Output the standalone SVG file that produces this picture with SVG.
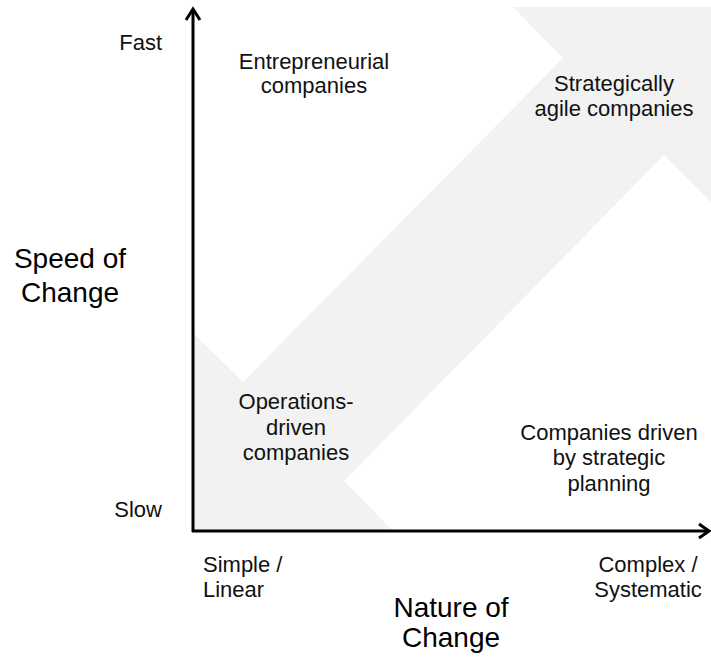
<svg xmlns="http://www.w3.org/2000/svg" width="711" height="657" viewBox="0 0 711 657">
<style>
.lbl{font-family:"Liberation Sans",Arial,sans-serif;font-size:22px;fill:#111;}
.big{font-family:"Liberation Sans",Arial,sans-serif;font-size:28px;fill:#000;}
.mid{text-anchor:middle;}
.end{text-anchor:end;}
.axis{fill:none;stroke:#000;stroke-width:3;}
.head{fill:none;stroke:#000;stroke-width:3;stroke-linejoin:miter;}
</style>
<rect width="711" height="657" fill="#fff"/>
<g id="band">
<polygon fill="#f2f2f2" points="193,333 243,382 563,58 513,7 711,7 711,202 664,155 344,481 393,531 193,531"/>
</g>
<g id="connectors">
<line class="axis" x1="193" y1="532" x2="193" y2="10"/>
<polyline class="head" points="186,20 193,9 200,20"/>
<line class="axis" x1="192" y1="531" x2="708" y2="531"/>
<polyline class="head" points="699,524 709,531 699,538"/>
</g>
<g id="fast"><text class="lbl end" x="162" y="50">Fast</text></g>
<g id="slow"><text class="lbl end" x="162" y="517">Slow</text></g>
<g id="speed"><text class="big mid" x="70" y="268">Speed of</text><text class="big mid" x="70" y="302">Change</text></g>
<g id="nature"><text class="big mid" x="451" y="617">Nature of</text><text class="big mid" x="451" y="647">Change</text></g>
<g id="simple"><text class="lbl" x="203" y="572">Simple /</text><text class="lbl" x="203" y="597">Linear</text></g>
<g id="complex"><text class="lbl mid" x="648" y="572">Complex /</text><text class="lbl mid" x="648" y="597">Systematic</text></g>
<g id="entrepreneurial"><text class="lbl mid" x="314" y="69">Entrepreneurial</text><text class="lbl mid" x="314" y="93">companies</text></g>
<g id="agile"><text class="lbl mid" x="614" y="91">Strategically</text><text class="lbl mid" x="614" y="116">agile companies</text></g>
<g id="operations"><text class="lbl mid" x="296" y="409">Operations-</text><text class="lbl mid" x="296" y="435">driven</text><text class="lbl mid" x="296" y="460">companies</text></g>
<g id="planning"><text class="lbl mid" x="609" y="440">Companies driven</text><text class="lbl mid" x="609" y="465">by strategic</text><text class="lbl mid" x="609" y="491">planning</text></g>
</svg>
